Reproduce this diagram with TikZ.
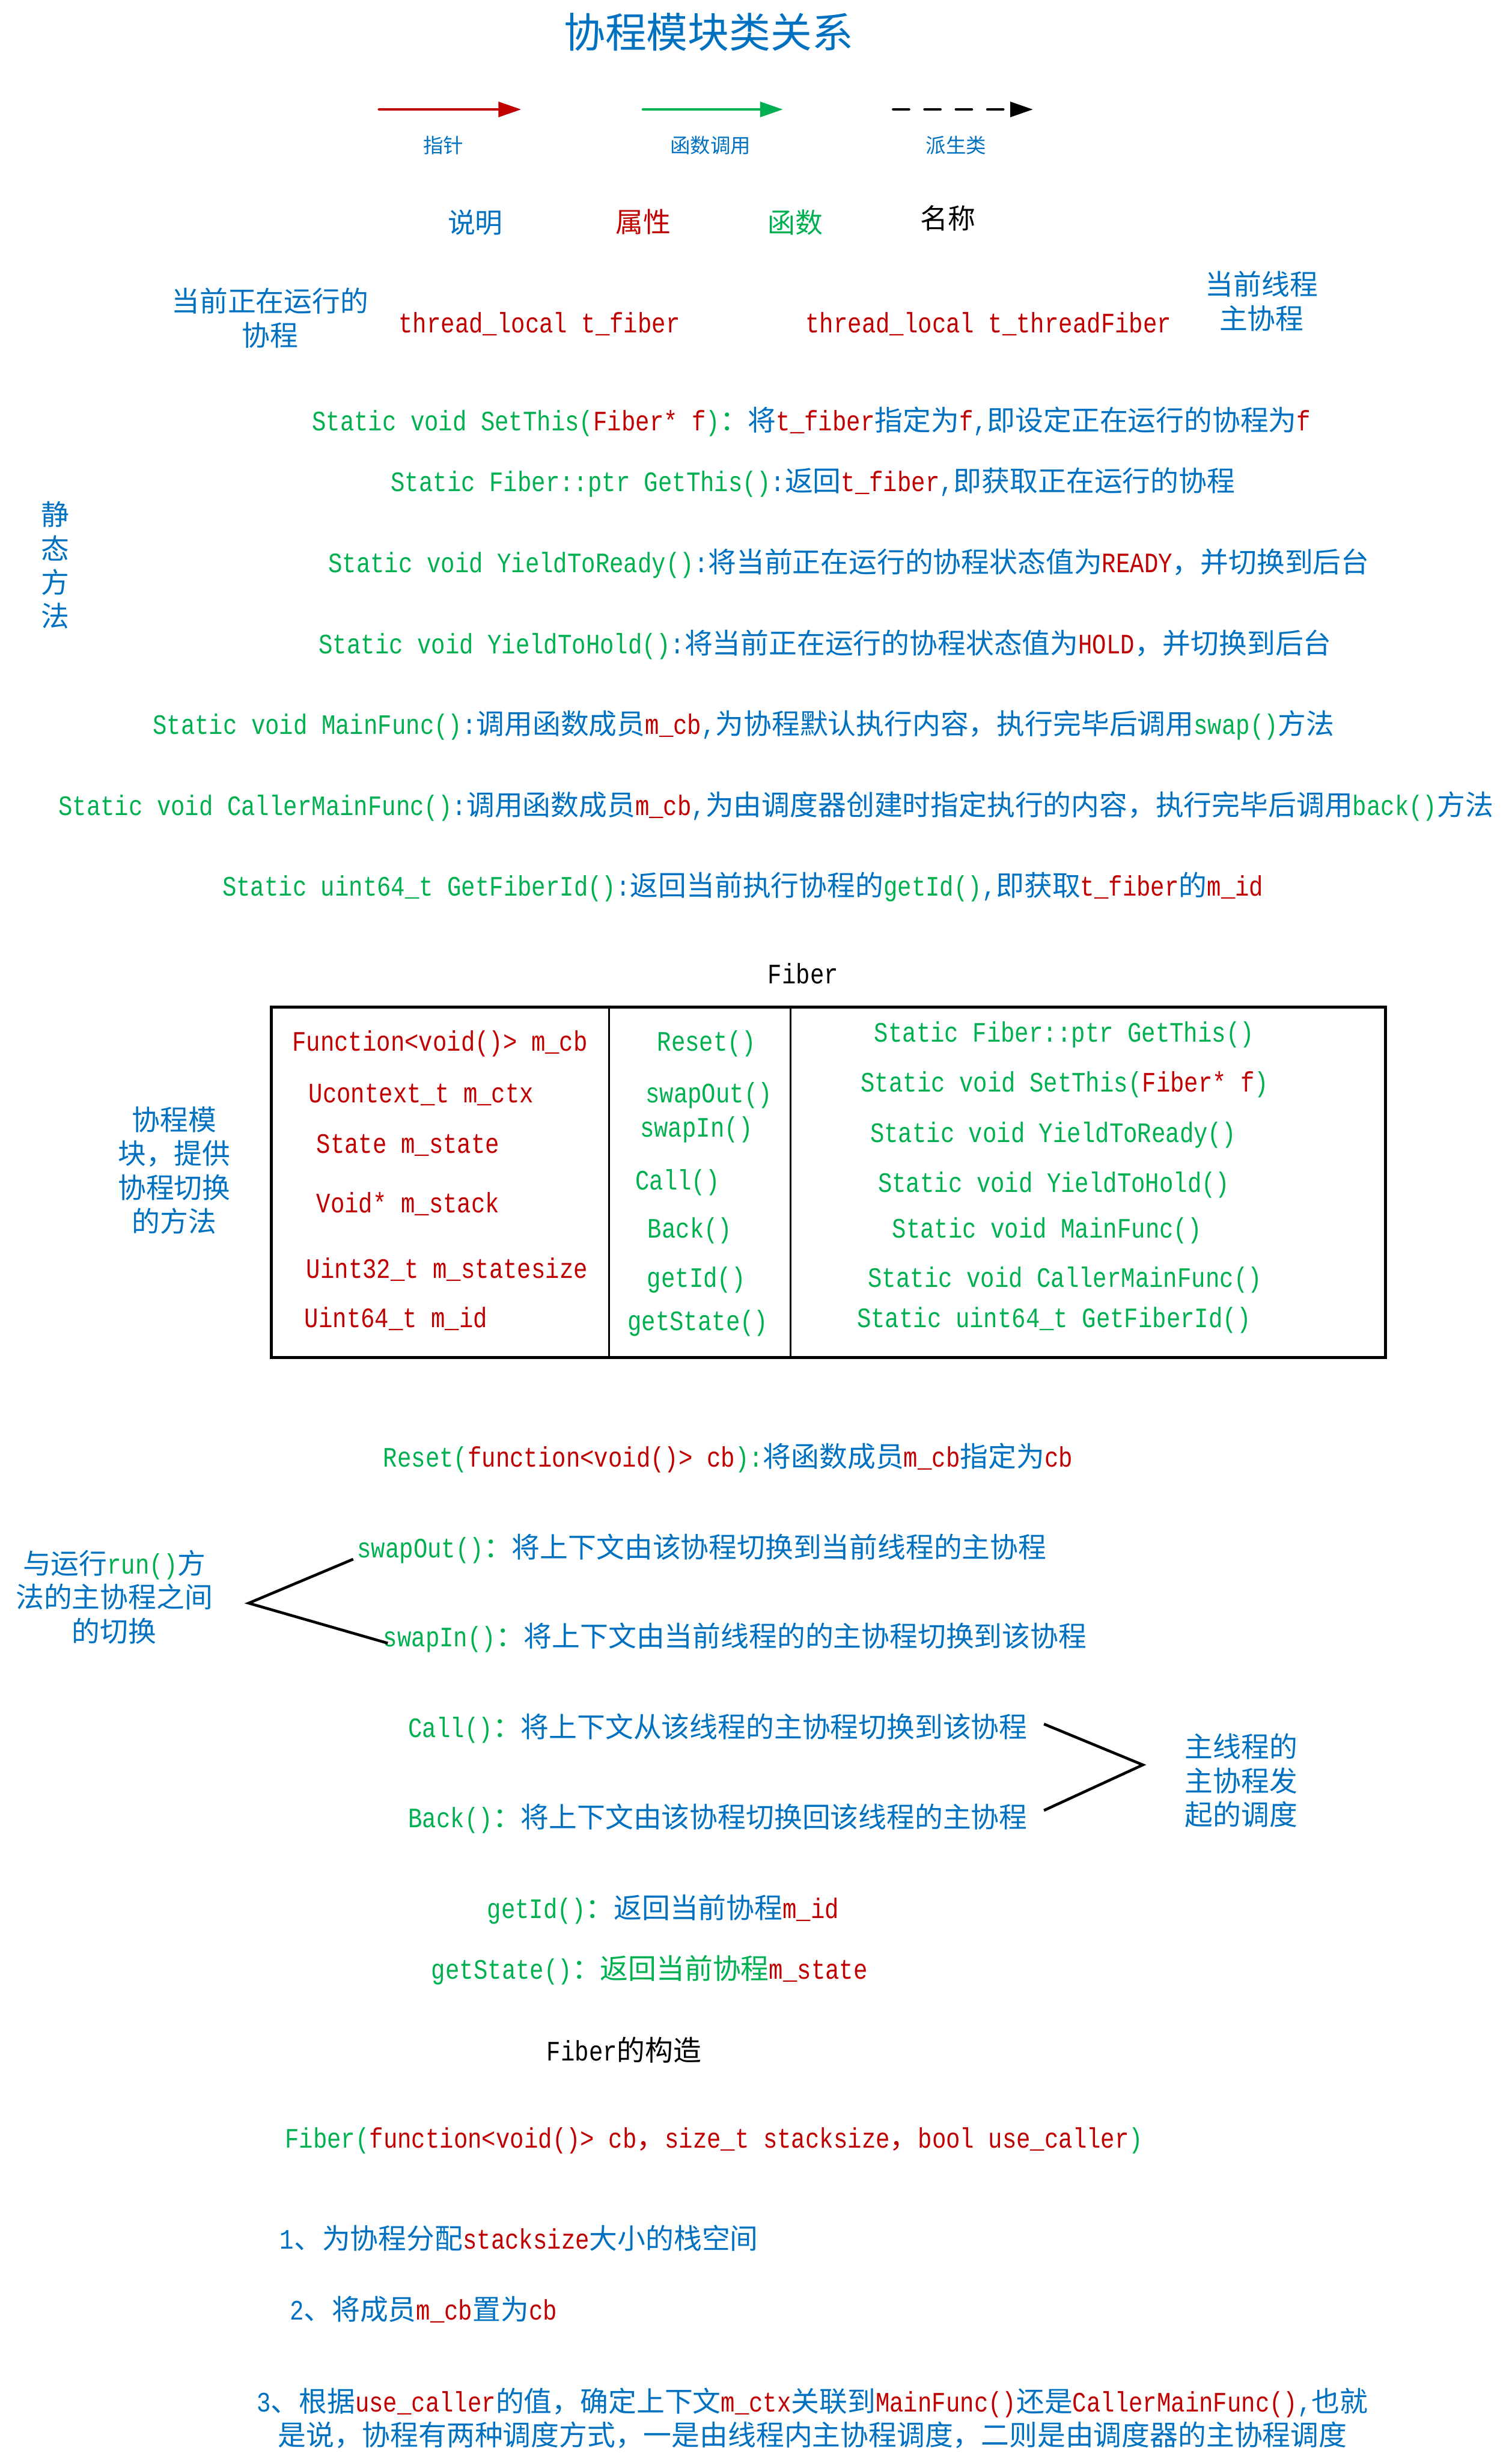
\documentclass[tikz,border=0pt]{standalone}
\usepackage{fontspec}
\usepackage{tikz}
\usetikzlibrary{arrows.meta}
\setmainfont{Liberation Mono}[FakeStretch=0.8333]
\newfontfamily\cjk{Noto Sans CJK SC}
% han characters switch to the CJK face by themselves
\XeTeXinterchartokenstate=1
\newXeTeXintercharclass\hanclass
\newcount\hancode
\newcommand\hanrange[2]{\hancode=#1\relax
  \loop\XeTeXcharclass\hancode=\hanclass
  \ifnum\hancode<#2\relax\advance\hancode by 1\repeat}
\hanrange{"3000}{"303F}\hanrange{"4E00}{"9FFF}\hanrange{"FF00}{"FFEF}
\XeTeXinterchartoks 0 \hanclass={\begingroup\cjk}
\XeTeXinterchartoks 4095 \hanclass={\begingroup\cjk}
\XeTeXinterchartoks \hanclass 0={\endgroup}
\XeTeXinterchartoks \hanclass 4095={\endgroup}
\definecolor{fgreen}{RGB}{0,176,80}
\definecolor{fred}{RGB}{192,0,0}
\definecolor{fblue}{RGB}{0,112,192}
\newcommand\gtx[1]{\textcolor{fgreen}{#1}}
\newcommand\rtx[1]{\textcolor{fred}{#1}}
\tikzset{
  txl/.style={inner sep=0pt,anchor=west,text=fblue,text height=7.6pt,text depth=1.2pt,font=\fontsize{10.2}{12.3}\selectfont},
  txc/.style={inner sep=0pt,align=center,text=fblue,font=\fontsize{10.2}{12.3}\selectfont},
  ttl/.style={inner sep=0pt,text=fblue,font=\fontsize{15}{18}\selectfont},
  lgd/.style={inner sep=0pt,text=fblue,font=\fontsize{7.3}{9}\selectfont},
  hdr/.style={inner sep=0pt,font=\fontsize{10}{12}\selectfont},
  karr/.style={line width=1pt,line cap=round,-{Triangle[length=0.29cm,width=0.19cm]}},
  brk/.style={line width=1pt},
  tbox/.style={line width=1.1pt},
  tcol/.style={line width=0.7pt},
  every picture/.style={x=0.02cm,y=-0.02cm}
}

\begin{document}
\begin{tikzpicture}
\useasboundingbox (0,0) rectangle (963,1568);
\node[ttl] (title) at (451.4,20.6) {协程模块类关系};
% legend
\coordinate (pa) at (241.5,69.7); \coordinate (pb) at (332,69.7);
\coordinate (ca) at (409.6,69.7); \coordinate (cb) at (498.7,69.7);
\coordinate (da) at (569,69.7); \coordinate (db) at (658,69.7);
\draw[karr,fred] (pa) -- (pb);
\draw[karr,fgreen] (ca) -- (cb);
\draw[karr,dash pattern=on 0.2cm off 0.2cm] (da) -- (db);
\node[lgd] (kptr) at (282.5,92.4) {指针};
\node[lgd] (kcall) at (452.6,92.4) {函数调用};
\node[lgd] (kder) at (609,92.4) {派生类};
\node[hdr,text=fblue] (hdesc) at (302.8,141.6) {说明};
\node[hdr,text=fred] (hattr) at (409.7,141.4) {属性};
\node[hdr,text=fgreen] (hfunc) at (506.7,141.6) {函数};
\node[hdr] (hname) at (603.7,138.9) {名称};
% thread_local members
\node[txc] (cur) at (172,202.6) {当前正在运行的\\协程};
\node[txl,text=fred] (tfib) at (253.6,206.2) {thread\_local t\_fiber};
\node[txl,text=fred] (ttf) at (512.8,206.2) {thread\_local t\_threadFiber};
\node[txc] (mainf) at (803.6,191.8) {当前线程\\主协程};
% static methods
\node[txc] (stat) at (35,360) {静\\态\\方\\法};
\node[txl] (s1) at (198.4,268.8) {\gtx{Static void SetThis(}\rtx{Fiber* f}\gtx{)：}将\rtx{t\_fiber}指定为\rtx{f},即设定正在运行的协程为\rtx{f}};
\node[txl] (s2) at (248.7,307.4) {\gtx{Static Fiber::ptr GetThis()}:返回\rtx{t\_fiber},即获取正在运行的协程};
\node[txl] (s3) at (208.8,359.1) {\gtx{Static void YieldToReady()}:将当前正在运行的协程状态值为\rtx{READY}，并切换到后台};
\node[txl] (s4) at (202.7,410.6) {\gtx{Static void YieldToHold()}:将当前正在运行的协程状态值为\rtx{HOLD}，并切换到后台};
\node[txl] (s5) at (97,462) {\gtx{Static void MainFunc()}:调用函数成员\rtx{m\_cb},为协程默认执行内容，执行完毕后调用\gtx{swap()}方法};
\node[txl] (s6) at (36.9,513.5) {\gtx{Static void CallerMainFunc()}:调用函数成员\rtx{m\_cb},为由调度器创建时指定执行的内容，执行完毕后调用\gtx{back()}方法};
\node[txl] (s7) at (141.3,565) {\gtx{Static uint64\_t GetFiberId()}:返回当前执行协程的\gtx{getId()},即获取\rtx{t\_fiber}的\rtx{m\_id}};
% class Fiber
\node[txc,text=black] (fib) at (511.6,620) {Fiber};
\coordinate (tnw) at (172.9,641.3); \coordinate (tse) at (882.5,864.7);
\draw[tbox] (tnw) rectangle (tse);
\draw[tcol] (387.9,641.3) -- (387.9,864.7);
\draw[tcol] (503.7,641.3) -- (503.7,864.7);
\node[txl,text=fred] (a1) at (185.8,663.6) {Function<void()> m\_cb};
\node[txl,text=fred] (a2) at (196.3,696.7) {Ucontext\_t m\_ctx};
\node[txl,text=fred] (a3) at (201.3,728.9) {State m\_state};
\node[txl,text=fred] (a4) at (201.3,766.8) {Void* m\_stack};
\node[txl,text=fred] (a5) at (194.8,808.4) {Uint32\_t m\_statesize};
\node[txl,text=fred] (a6) at (193.7,839.7) {Uint64\_t m\_id};
\node[txl,text=fgreen] (m1) at (418.3,663.6) {Reset()};
\node[txl,text=fgreen] (m2) at (410.9,696.7) {swapOut()};
\node[txl,text=fgreen] (m3) at (407.4,718.5) {swapIn()};
\node[txl,text=fgreen] (m4) at (404.4,752.2) {Call()};
\node[txl,text=fgreen] (m5) at (412.3,782.8) {Back()};
\node[txl,text=fgreen] (m6) at (411.9,814.1) {getId()};
\node[txl,text=fgreen] (m7) at (399.4,841.6) {getState()};
\node[txl,text=fgreen] (f1) at (556.6,657.9) {Static Fiber::ptr GetThis()};
\node[txl,text=fgreen] (f2) at (548,689.6) {Static void SetThis(\rtx{Fiber* f})};
\node[txl,text=fgreen] (f3) at (554,721.9) {Static void YieldToReady()};
\node[txl,text=fgreen] (f4) at (559,753.5) {Static void YieldToHold()};
\node[txl,text=fgreen] (f5) at (568,782.8) {Static void MainFunc()};
\node[txl,text=fgreen] (f6) at (552.6,814.1) {Static void CallerMainFunc()};
\node[txl,text=fgreen] (f7) at (545.6,839.7) {Static uint64\_t GetFiberId()};
\node[txc] (mod) at (111,745.5) {协程模\\块，提供\\协程切换\\的方法};
% member methods
\node[txl] (reset) at (243.8,928.6) {\gtx{Reset(}\rtx{function<void()> cb}\gtx{):}将函数成员\rtx{m\_cb}指定为\rtx{cb}};
\node[txl] (so) at (227.2,986.4) {\gtx{swapOut()：}将上下文由该协程切换到当前线程的主协程};
\node[txl] (si) at (243.8,1043.2) {\gtx{swapIn()：}将上下文由当前线程的的主协程切换到该协程};
\node[txc] (swl) at (72.8,1017) {与运行\gtx{run()}方\\法的主协程之间\\的切换};
\coordinate (b1a) at (225,993); \coordinate (b1c) at (158.4,1021); \coordinate (b1b) at (247,1046.5);
\draw[brk] (b1a) -- (b1c) -- (b1b);
\node[txl] (call) at (259.8,1101) {\gtx{Call()：}将上下文从该线程的主协程切换到该协程};
\node[txl] (back) at (259.8,1158.2) {\gtx{Back()：}将上下文由该协程切换回该线程的主协程};
\coordinate (b2a) at (665,1098); \coordinate (b2c) at (728,1124); \coordinate (b2b) at (665,1153);
\draw[brk] (b2a) -- (b2c) -- (b2b);
\node[txc] (rtl) at (790.6,1134) {主线程的\\主协程发\\起的调度};
\node[txl] (gid) at (310,1216) {\gtx{getId()：}返回当前协程\rtx{m\_id}};
\node[txl] (gst) at (274.5,1254.8) {\gtx{getState()：返回当前协程}\rtx{m\_state}};
% constructor
\node[txc,text=black] (ctor) at (397.6,1305.6) {Fiber的构造};
\node[txl] (sig) at (181.2,1362.2) {\gtx{Fiber(}\rtx{function<void()> cb，size\_t stacksize，bool use\_caller}\gtx{)}};
\node[txl] (c1) at (178,1426.5) {1、为协程分配\rtx{stacksize}大小的栈空间};
\node[txl] (c2) at (184.2,1471.7) {2、将成员\rtx{m\_cb}置为\rtx{cb}};
\node[txc] (c3) at (517.5,1540.1) {3、根据\rtx{use\_caller}的值，确定上下文\rtx{m\_ctx}关联到\rtx{MainFunc()}还是\rtx{CallerMainFunc()},也就\\是说，协程有两种调度方式，一是由线程内主协程调度，二则是由调度器的主协程调度};
\end{tikzpicture}
\end{document}
